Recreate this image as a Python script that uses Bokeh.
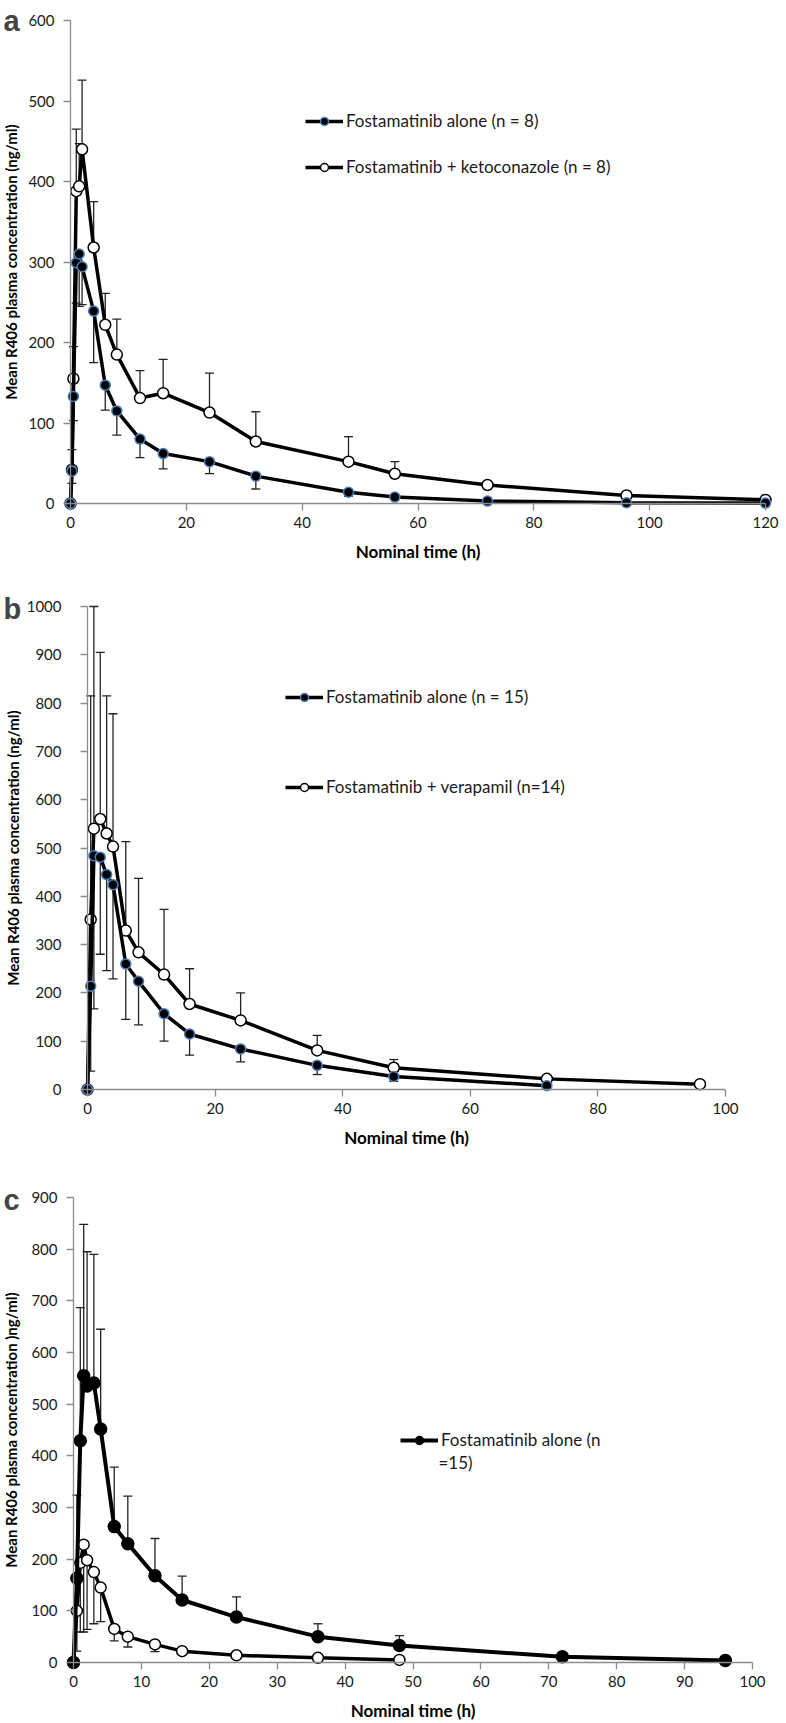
from bokeh.plotting import figure
from bokeh.layouts import column
from bokeh.models import (ColumnDataSource, Whisker, TeeHead, Legend, LegendItem,
                          Label, FixedTicker, Range1d, LinearAxis)
from bokeh.embed import file_html
from bokeh.resources import INLINE

# ---------------- data ----------------
# Panel a
ta = [0, 0.25, 0.5, 1, 1.5, 2, 4, 6, 8, 12, 16, 24, 32, 48, 56, 72, 96, 120]
a_alone = [0, 40, 133, 299, 310, 294, 239, 147, 115, 80, 62, 52, 34, 14, 8, 3, 1, 0.5]
a_alone_sd = [0, 15, 30, 50, 65, 47, 64, 31, 30, 23, 19, 15, 16, 5, 3, 1, 0.5, 0.2]
a_keto = [0, 42, 155, 388, 394, 440, 318, 222, 185, 131, 137, 113, 77, 52, 37, 23, 10, 4.5]
a_keto_sd = [0, 25, 40, 77, 53, 86, 57, 39, 44, 34, 42, 49, 37, 31, 15, 4, 2, 1]
a_labels = ["Fostamatinib alone (n = 8)", "Fostamatinib + ketoconazole (n = 8)"]
a_xticks = [0, 20, 40, 60, 80, 100, 120]
a_yticks = [0, 100, 200, 300, 400, 500, 600]

# Panel b
tb_alone = [0, 0.5, 1, 2, 3, 4, 6, 8, 12, 16, 24, 36, 48, 72]
b_alone = [0, 214, 484, 481, 445, 424, 260, 224, 157, 115, 84, 50, 27, 8]
b_alone_sd = [0, 176, 317, 201, 199, 195, 115, 90, 57, 44, 27, 19, 10, 3]
tb_ver = [0, 0.5, 1, 2, 3, 4, 6, 8, 12, 16, 24, 36, 48, 72, 96]
b_ver = [0, 352, 540, 560, 530, 503, 329, 284, 238, 177, 143, 81, 45, 22, 11]
b_ver_sd = [0, 463, 460, 345, 285, 275, 184, 153, 135, 73, 57, 31, 17, 5, 3]
b_labels = ["Fostamatinib alone (n = 15)", "Fostamatinib + verapamil (n=14)"]
b_xticks = [0, 20, 40, 60, 80, 100]
b_yticks = [0, 100, 200, 300, 400, 500, 600, 700, 800, 900, 1000]

# Panel c
tc_alone = [0, 0.5, 1, 1.5, 2, 3, 4, 6, 8, 12, 16, 24, 36, 48, 72, 96]
c_alone = [0, 163, 429, 555, 535, 541, 452, 263, 230, 168, 121, 88, 50, 33, 11, 4]
c_alone_sd = [0, 161, 258, 293, 260, 249, 193, 115, 92, 72, 46, 39, 25, 19, 0, 0]
tc_other = [0, 0.5, 1, 1.5, 2, 3, 4, 6, 8, 12, 16, 24, 36, 48]
c_other = [0, 100, 193, 228, 198, 175, 145, 65, 50, 35, 22, 14, 9, 5]
c_other_sd = [0, 78, 134, 169, 134, 100, 66, 23, 20, 14, 6, 4, 2, 1]
c_label = ["Fostamatinib alone (n", "=15)"]
c_xticks = [0, 10, 20, 30, 40, 50, 60, 70, 80, 90, 100]
c_yticks = [0, 100, 200, 300, 400, 500, 600, 700, 800, 900]

x_title = "Nominal time (h)"
y_title_ab = "Mean R406 plasma concentration (ng/ml)"
y_title_c = "Mean R406 plasma concentration )ng/ml)"

FONT = "Lato"
BLUE = "#4a7ebb"
PAGE_L, PAGE_R = 0, 786


def base_fig(top, bottom, x0p, xmp, ytp, y0p, xticks, yticks, ytitle,
             ylab_standoff, ytitle_standoff):
    xmax, ymax = xticks[-1], yticks[-1]
    sx = (xmp - x0p) / xmax
    sy = (y0p - ytp) / ymax
    h = bottom - top
    p = figure(frame_width=PAGE_R - PAGE_L, frame_height=h,
               min_border=0,
               x_range=Range1d(-(x0p - PAGE_L) / sx, xmax + (PAGE_R - xmp) / sx),
               y_range=Range1d(-(bottom - y0p) / sy, ymax + (ytp - top) / sy),
               x_axis_location=None, y_axis_location=None,
               output_backend="svg", toolbar_location=None)
    p.outline_line_color = None
    p.grid.visible = False
    xa = LinearAxis(fixed_location=0, bounds=(0, xmax),
                    ticker=FixedTicker(ticks=xticks), axis_label=x_title)
    ya = LinearAxis(fixed_location=0, bounds=(0, ymax),
                    ticker=FixedTicker(ticks=yticks), axis_label=ytitle)
    for ax in (xa, ya):
        ax.axis_line_color = "#8c8c8c"
        ax.axis_line_width = 1.3
        ax.major_tick_line_color = "#8c8c8c"
        ax.major_tick_line_width = 1.3
        ax.major_tick_out = 7
        ax.major_tick_in = 0
        ax.minor_tick_line_color = None
        ax.major_label_text_font = FONT
        ax.major_label_text_font_size = "15px"
        ax.major_label_text_color = "#1a1a1a"
        ax.axis_label_text_font = FONT
        ax.axis_label_text_font_style = "bold"
        ax.axis_label_text_color = "#000000"
    xa.axis_label_text_font_size = "17px"
    ya.axis_label_text_font_size = "15px"
    xa.major_label_standoff = 6
    xa.axis_label_standoff = 10
    ya.major_label_standoff = ylab_standoff
    ya.axis_label_standoff = ytitle_standoff
    p.add_layout(xa, "below")
    p.add_layout(ya, "left")
    return p, sx, sy


def whisk(p, t, v, sd, direction):
    if direction == "up":
        up = [a + b for a, b in zip(v, sd)]
        lo = list(v)
    else:
        up = list(v)
        lo = [a - b for a, b in zip(v, sd)]
    src = ColumnDataSource(dict(t=t, up=up, lo=lo))
    head = TeeHead(size=9, line_width=1.3, line_color="#222222")
    w = Whisker(source=src, base="t", upper="up", lower="lo",
                line_color="#222222", line_width=1.3,
                upper_head=head if direction == "up" else None,
                lower_head=head if direction == "down" else None)
    p.add_layout(w)


def series(p, t, v, lw, closed, size, outline):
    src = ColumnDataSource(dict(t=t, v=v))
    lr = p.line("t", "v", source=src, line_color="black", line_width=lw)
    if closed:
        sr = p.scatter("t", "v", source=src, size=size, fill_color="black",
                       line_color=outline, line_width=1.5)
    else:
        sr = p.scatter("t", "v", source=src, size=size, fill_color="white",
                       line_color="black", line_width=1.5)
    return lr, sr


def letter(p, txt, x, y):
    p.add_layout(Label(x=x, y=y, x_units="screen", y_units="screen", text=txt,
                       text_font="Liberation Sans", text_font_style="bold",
                       text_font_size="29px", text_baseline="middle",
                       text_align="left"))


def legend(p, items, loc, spacing):
    lg = Legend(items=items, location=loc, spacing=spacing, padding=0, margin=0,
                glyph_width=38, glyph_height=20, label_standoff=3, label_height=20,
                label_text_font=FONT, label_text_font_size="17px",
                label_text_color="#1a1a1a",
                background_fill_alpha=0, border_line_color=None)
    p.add_layout(lg)


# ---------------- panel a ----------------
TOP_A, BOT_A = 0, 578
pa, _, _ = base_fig(TOP_A, BOT_A, 70, 765, 20, 503, a_xticks, a_yticks, y_title_ab, 9, 5)
whisk(pa, ta, a_alone, a_alone_sd, "down")
whisk(pa, ta, a_keto, a_keto_sd, "up")
l2, s2 = series(pa, ta, a_keto, 3.5, False, 11, None)
l1, s1 = series(pa, ta, a_alone, 3.5, True, 10, BLUE)
legend(pa, [LegendItem(label=a_labels[0], renderers=[l1, s1]),
            LegendItem(label=a_labels[1], renderers=[l2, s2])],
       (305 - PAGE_L, BOT_A - 177), 25)
letter(pa, "a", 3, BOT_A - 20)

# ---------------- panel b ----------------
TOP_B, BOT_B = 578, 1150
pb, _, _ = base_fig(TOP_B, BOT_B, 87, 725, 606, 1089, b_xticks, b_yticks, y_title_ab, 19, 2)
whisk(pb, tb_alone, b_alone, b_alone_sd, "down")
whisk(pb, tb_ver, b_ver, b_ver_sd, "up")
l2, s2 = series(pb, tb_ver, b_ver, 3.5, False, 11, None)
l1, s1 = series(pb, tb_alone, b_alone, 3.5, True, 10, BLUE)
legend(pb, [LegendItem(label=b_labels[0], renderers=[l1, s1]),
            LegendItem(label=b_labels[1], renderers=[l2, s2])],
       (285 - PAGE_L, BOT_B - 797), 69)
letter(pb, "b", 3, BOT_B - 608)

# ---------------- panel c ----------------
TOP_C, BOT_C = 1150, 1722
pc, sxc, syc = base_fig(TOP_C, BOT_C, 73, 752, 1197, 1662, c_xticks, c_yticks, y_title_c, 9, 8)
whisk(pc, tc_alone, c_alone, c_alone_sd, "up")
whisk(pc, tc_other, c_other, c_other_sd, "down")
l2, s2 = series(pc, tc_other, c_other, 3.5, False, 11, None)
l1, s1 = series(pc, tc_alone, c_alone, 4, True, 12, "black")
legend(pc, [LegendItem(label=c_label[0], renderers=[l1, s1])],
       (400 - PAGE_L, BOT_C - 1450), 0)
# second line of the legend label, placed in data units
pc.add_layout(Label(x=(438 - 73) / sxc, y=(1662 - 1462) / syc,
                    text=c_label[1], text_font=FONT, text_font_size="17px",
                    text_color="#1a1a1a", text_baseline="middle", text_align="left"))
letter(pc, "c", 3, BOT_C - 1199)

layout = column(pa, pb, pc, spacing=0)
open("out.html", "w").write(file_html(layout, INLINE))
